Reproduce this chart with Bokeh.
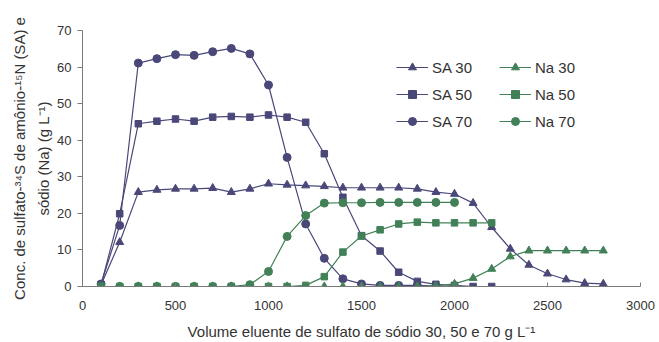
from bokeh.plotting import figure
from bokeh.models import Legend, LegendItem, Range1d, FixedTicker, Title
from bokeh.embed import file_html
from bokeh.resources import INLINE

# Volume (x) values
x_sa70 = [100, 200, 300, 400, 500, 600, 700, 800, 900, 1000, 1100, 1200, 1300, 1400, 1500, 1600, 1700, 1800, 1900, 2000]
sa70 = [0.7, 16.7, 61.1, 62.3, 63.4, 63.2, 64.2, 65.1, 63.6, 55.1, 35.3, 17.1, 7.7, 2.1, 0.7, 0.3, 0.3, 0.3, 0.1, 0.0]

x_sa50 = [100, 200, 300, 400, 500, 600, 700, 800, 900, 1000, 1100, 1200, 1300, 1400, 1500, 1600, 1700, 1800, 1900, 2000, 2100, 2200]
sa50 = [0.5, 19.9, 44.5, 45.2, 45.8, 45.2, 46.3, 46.5, 46.3, 46.9, 46.3, 44.9, 36.3, 24.4, 13.9, 9.7, 3.9, 1.4, 0.6, 0.3, 0.0, 0.0]

x_sa30 = [100, 200, 300, 400, 500, 600, 700, 800, 900, 1000, 1100, 1200, 1300, 1400, 1500, 1600, 1700, 1800, 1900, 2000, 2100, 2200, 2300, 2400, 2500, 2600, 2700, 2800]
sa30 = [0.5, 12.1, 25.8, 26.4, 26.7, 26.7, 26.9, 25.8, 26.7, 28.1, 27.8, 27.6, 27.4, 27.0, 27.0, 27.0, 27.0, 26.7, 25.8, 25.3, 22.8, 16.2, 10.3, 5.9, 3.5, 1.9, 0.9, 0.7]

x_na30 = [100, 200, 300, 400, 500, 600, 700, 800, 900, 1000, 1100, 1200, 1300, 1400, 1500, 1600, 1700, 1800, 1900, 2000, 2100, 2200, 2300, 2400, 2500, 2600, 2700, 2800]
na30 = [0, 0, 0, 0, 0, 0, 0, 0, 0, 0, 0, 0, 0, 0, 0, 0, 0, 0, 0.2, 0.7, 2.3, 4.8, 8.2, 9.8, 9.8, 9.8, 9.8, 9.8]

x_na50 = [100, 200, 300, 400, 500, 600, 700, 800, 900, 1000, 1100, 1200, 1300, 1400, 1500, 1600, 1700, 1800, 1900, 2000, 2100, 2200]
na50 = [0, 0, 0, 0, 0, 0, 0, 0, 0, 0, 0, 0.3, 2.7, 9.4, 13.8, 15.5, 17.1, 17.6, 17.4, 17.4, 17.4, 17.4]

x_na70 = [100, 200, 300, 400, 500, 600, 700, 800, 900, 1000, 1100, 1200, 1300, 1400, 1500, 1600, 1700, 1800, 1900, 2000]
na70 = [0, 0, 0, 0, 0, 0, 0, 0, 0.5, 4.1, 13.7, 19.4, 22.8, 22.9, 22.9, 23.0, 23.0, 23.0, 23.0, 23.0]

x_ticks = [0, 500, 1000, 1500, 2000, 2500, 3000]
y_ticks = [0, 10, 20, 30, 40, 50, 60, 70]

x_title = "Volume eluente de sulfato de sódio 30, 50 e 70 g L\u207b\u00b9"
y_title_1 = "Conc. de sulfato-\u00b3\u2074S de amônio-\u00b9\u2075N (SA) e"
y_title_2 = "sódio (Na) (g L\u207b\u00b9)"

PURPLE = "#4a4879"
GREEN = "#428157"
FONT = "Liberation Sans"
TXT = "#333333"

p = figure(width=655, height=342, output_backend="svg", toolbar_location=None,
           x_range=Range1d(0, 3000), y_range=Range1d(0, 70),
           min_border_left=82, min_border_right=15, min_border_top=30, min_border_bottom=56)
p.outline_line_color = None
p.xgrid.visible = False
p.ygrid.visible = False

def series(x, y, color, marker, size):
    r_line = p.line(x, y, line_color=color, line_width=1.2)
    r_mark = p.scatter(x, y, marker=marker, size=size, fill_color=color, line_color=color)
    return [r_line, r_mark]

r_sa30 = series(x_sa30, sa30, PURPLE, "triangle", 8)
r_sa50 = series(x_sa50, sa50, PURPLE, "square", 6.5)
r_sa70 = series(x_sa70, sa70, PURPLE, "circle", 8)
r_na30 = series(x_na30, na30, GREEN, "triangle", 8)
r_na50 = series(x_na50, na50, GREEN, "square", 6.5)
r_na70 = series(x_na70, na70, GREEN, "circle", 8)

for ax in (p.xaxis[0], p.yaxis[0]):
    ax.axis_line_color = "#7a7a7a"
    ax.major_tick_line_color = "#7a7a7a"
    ax.minor_tick_line_color = None
    ax.major_label_text_font = FONT
    ax.major_label_text_font_size = "13px"
    ax.major_label_text_color = TXT
    ax.axis_label_text_font = FONT
    ax.axis_label_text_font_size = "15px"
    ax.axis_label_text_font_style = "normal"
    ax.axis_label_text_color = TXT

p.xaxis.ticker = FixedTicker(ticks=x_ticks)
p.yaxis.ticker = FixedTicker(ticks=y_ticks)
p.xaxis.major_tick_in = 4
p.xaxis.major_tick_out = 0
p.yaxis.major_tick_in = 0
p.yaxis.major_tick_out = 5
p.yaxis.major_label_standoff = 6
p.xaxis.major_label_standoff = 14
p.xaxis.axis_label = x_title
p.xaxis.axis_label_standoff = 10

# y title as two stacked left titles (later added = further out)
for txt, so in ((y_title_2, 6), (y_title_1, 4)):
    p.add_layout(Title(text=txt, align="center", text_font=FONT, text_font_size="15px",
                       text_font_style="normal", text_color=TXT, standoff=so), "left")

def make_legend(items, x, y):
    lg = Legend(items=items, location=(x, y), orientation="vertical",
                background_fill_alpha=0, border_line_color=None,
                padding=0, margin=0, spacing=7, glyph_width=32, glyph_height=20,
                label_height=20, label_standoff=4,
                label_text_font=FONT, label_text_font_size="15px", label_text_color=TXT)
    p.add_layout(lg)

make_legend([LegendItem(label="SA 30", renderers=r_sa30),
             LegendItem(label="SA 50", renderers=r_sa50),
             LegendItem(label="SA 70", renderers=r_sa70)], 314, 155)
make_legend([LegendItem(label="Na 30", renderers=r_na30),
             LegendItem(label="Na 50", renderers=r_na50),
             LegendItem(label="Na 70", renderers=r_na70)], 417, 155)

open("out.html", "w").write(file_html(p, INLINE))
